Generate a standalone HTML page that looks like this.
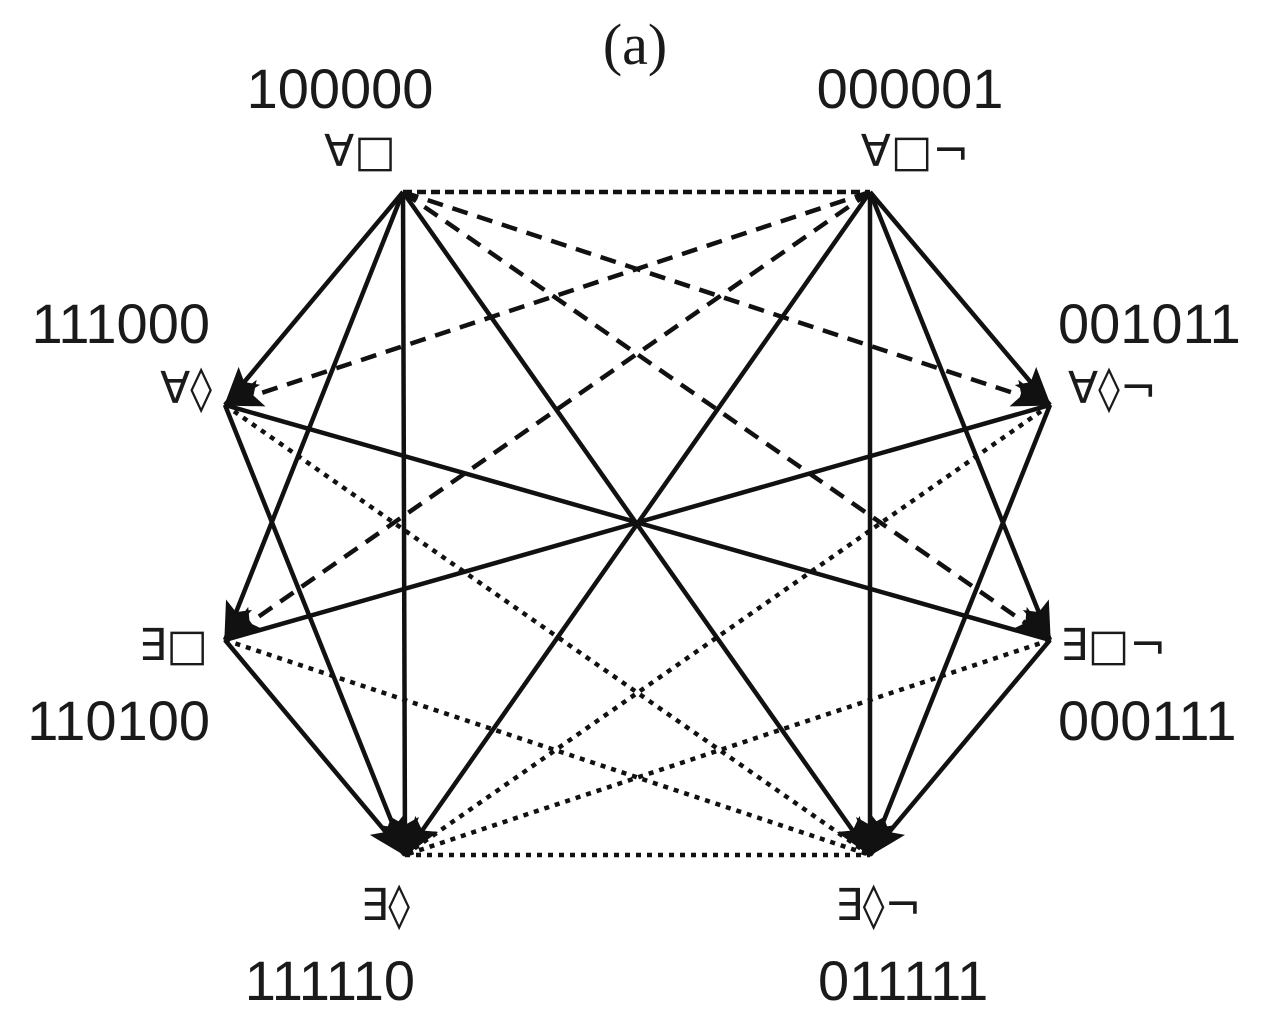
<!DOCTYPE html>
<html><head><meta charset="utf-8"><style>
html,body{margin:0;padding:0;background:#fff;}
svg{display:block;}
text{font-family:"Liberation Sans","DejaVu Sans",sans-serif;font-size:56px;fill:#1a1a1a;}
.s{font-family:"DejaVu Sans","Liberation Sans",sans-serif;font-size:44px;}
</style></head><body>
<svg width="1262" height="1029" viewBox="0 0 1262 1029" xmlns="http://www.w3.org/2000/svg">
<defs>
<marker id="ar" markerUnits="userSpaceOnUse" markerWidth="40" markerHeight="30" refX="38" refY="14" orient="auto">
<path d="M0,0 L40,14 L0,28 L8,14 Z" fill="#111"/>
</marker>
</defs>
<g stroke="#111" stroke-width="4.5" fill="none">
<line x1="403" y1="192" x2="225" y2="405" marker-end="url(#ar)"/>
<line x1="403" y1="192" x2="225" y2="640" marker-end="url(#ar)"/>
<line x1="403" y1="192" x2="405" y2="855" marker-end="url(#ar)"/>
<line x1="403" y1="192" x2="870" y2="855" marker-end="url(#ar)"/>
<line x1="870" y1="192" x2="1050" y2="405" marker-end="url(#ar)"/>
<line x1="870" y1="192" x2="1050" y2="640" marker-end="url(#ar)"/>
<line x1="870" y1="192" x2="870" y2="855" marker-end="url(#ar)"/>
<line x1="870" y1="192" x2="405" y2="855" marker-end="url(#ar)"/>
<line x1="225" y1="405" x2="1050" y2="640"/>
<line x1="1050" y1="405" x2="225" y2="640"/>
<line x1="225" y1="405" x2="405" y2="855" marker-end="url(#ar)"/>
<line x1="225" y1="640" x2="405" y2="855" marker-end="url(#ar)"/>
<line x1="1050" y1="405" x2="870" y2="855" marker-end="url(#ar)"/>
<line x1="1050" y1="640" x2="870" y2="855" marker-end="url(#ar)"/>
</g>
<g stroke="#111" stroke-width="4.5" fill="none" stroke-dasharray="16,10">
<line x1="403" y1="192" x2="1050" y2="405" marker-end="url(#ar)"/>
<line x1="403" y1="192" x2="1050" y2="640" marker-end="url(#ar)"/>
<line x1="870" y1="192" x2="225" y2="405" marker-end="url(#ar)"/>
<line x1="870" y1="192" x2="225" y2="640" marker-end="url(#ar)"/>
</g>
<line x1="403" y1="192" x2="870" y2="192" stroke="#111" stroke-width="4.5" stroke-dasharray="9,5"/>
<g stroke="#111" stroke-width="4.5" fill="none" stroke-dasharray="5,6">
<line x1="225" y1="405" x2="870" y2="855"/>
<line x1="225" y1="640" x2="870" y2="855"/>
<line x1="1050" y1="405" x2="405" y2="855"/>
<line x1="1050" y1="640" x2="405" y2="855"/>
<line x1="405" y1="855" x2="870" y2="855"/>
</g>
<text x="635" y="64" text-anchor="middle" style="font-family:'Liberation Serif',serif;font-size:58px">(a)</text>
<text x="340" y="108" text-anchor="middle">100000</text>
<text class="s" x="360" y="166" text-anchor="middle">∀□</text>
<text x="910" y="108" text-anchor="middle">000001</text>
<text class="s" x="915" y="166" text-anchor="middle">∀□¬</text>
<text x="210" y="343" text-anchor="end">111000</text>
<text class="s" x="212" y="403" text-anchor="end">∀◊</text>
<text x="1058" y="343">001011</text>
<text class="s" x="1068" y="403">∀◊¬</text>
<text class="s" x="208" y="660" text-anchor="end">∃□</text>
<text x="210" y="740" text-anchor="end">110100</text>
<text class="s" x="1060" y="660">∃□¬</text>
<text x="1058" y="740">000111</text>
<text class="s" x="410" y="920" text-anchor="end">∃◊</text>
<text x="415" y="1000" text-anchor="end">111110</text>
<text class="s" x="835" y="920">∃◊¬</text>
<text x="818" y="1000">011111</text>
</svg>
</body></html>
